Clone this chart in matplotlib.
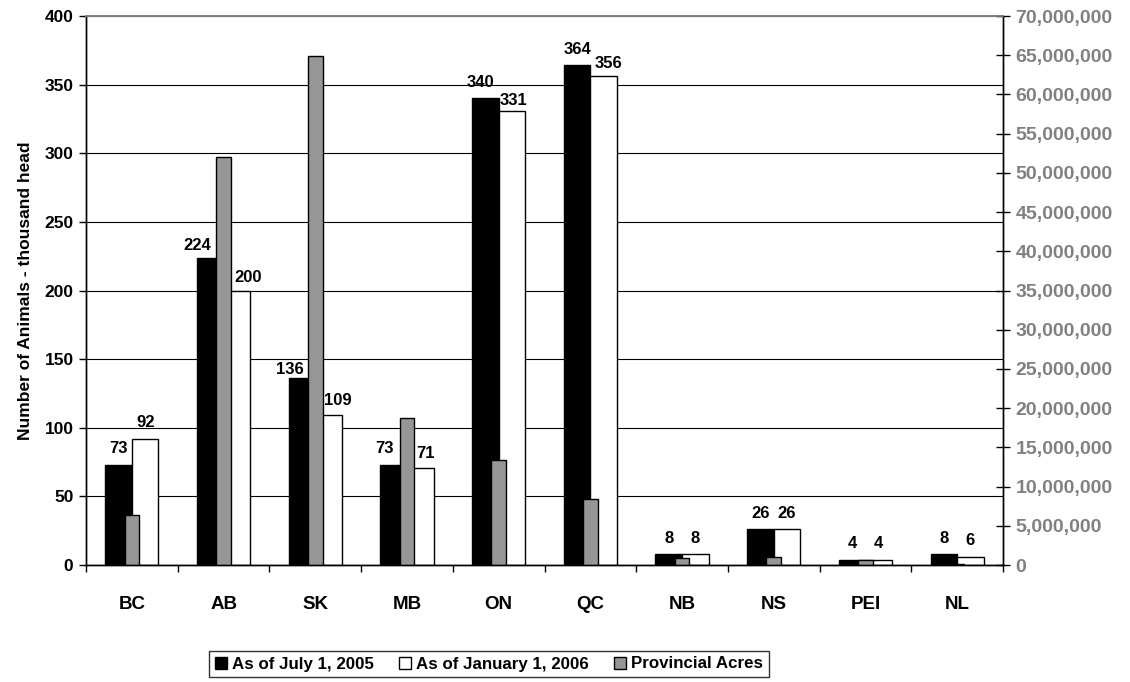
import matplotlib
matplotlib.use("Agg")
import matplotlib.pyplot as plt
import numpy as np
from matplotlib.ticker import FuncFormatter, FixedLocator, MultipleLocator
from matplotlib.patches import Patch

plt.rcParams['font.family'] = ['Liberation Sans', 'DejaVu Sans']
plt.rcParams['font.weight'] = 'bold'

# Data
provinces = ["BC", "AB", "SK", "MB", "ON", "QC", "NB", "NS", "PEI", "NL"]
animals_jul2005 = [73, 224, 136, 73, 340, 364, 8, 26, 4, 8]        # thousand head
animals_jan2006 = [92, 200, 109, 71, 331, 356, 8, 26, 4, 6]        # thousand head
provincial_acres = [6_400_000, 52_000_000, 64_900_000, 18_800_000, 13_400_000,
                    8_400_000, 950_000, 1_000_000, 600_000, 80_000]

series_names = ["As of July 1, 2005", "As of January 1, 2006", "Provincial Acres"]

# Label nudges (x in category units, y in points) to keep labels clear of the acre bars
nudge_black = [(0, 0), (-0.14, -3), (-0.135, -5), (-0.10, 0), (-0.055, 0),
               (0, 0), (0, 0), (0, 0), (0, 0), (0, 0)]
nudge_white = [(0, 0), (0.118, -2), (0.104, -1), (0.058, -1), (0.015, -4),
               (0.057, -2), (0, 0), (0, 0), (0, 0), (0, 0)]

fig = plt.figure(figsize=(11.30, 6.82), dpi=100)
ax = fig.add_axes([86/1130, 1 - 565/682, (1003 - 86)/1130, (565 - 16)/682])
ax2 = ax.twinx()

x = np.arange(len(provinces))
w = 0.29
gw = 0.16

ax.bar(x - w/2, animals_jul2005, width=w, color="black", edgecolor="black",
       linewidth=1, zorder=2)
ax.bar(x + w/2, animals_jan2006, width=w, color="white", edgecolor="black",
       linewidth=1, zorder=2)
ax2.bar(x, provincial_acres, width=gw, color="#969696", edgecolor="black",
        linewidth=1, zorder=2)

ax.set_xlim(-0.5, len(provinces) - 0.5)
ax.set_ylim(0, 400)
ax2.set_ylim(0, 70_000_000)

# Gridlines on the left scale
ax.yaxis.set_major_locator(MultipleLocator(50))
ax.set_axisbelow(True)
ax.grid(axis="y", color="black", linewidth=0.8, zorder=0)
ax.grid(axis="x", visible=False)

# Category ticks between groups, labels centred beneath
ax.xaxis.set_major_locator(FixedLocator(np.arange(len(provinces) + 1) - 0.5))
ax.xaxis.set_major_formatter(FuncFormatter(lambda v, p: ""))
ax.xaxis.set_minor_locator(FixedLocator(x))
ax.set_xticklabels(provinces, minor=True)
ax.tick_params(axis="x", which="major", direction="out", length=5, width=1,
               color="black")
ax.tick_params(axis="x", which="minor", length=0, pad=22, labelsize=13.5)

ax.tick_params(axis="y", direction="out", length=5, width=1, labelsize=12.5,
               pad=4)
ax.set_ylabel("Number of Animals - thousand head", fontsize=12.5,
              fontweight="bold", labelpad=8)

ax2.yaxis.set_major_locator(MultipleLocator(5_000_000))
ax2.yaxis.set_major_formatter(FuncFormatter(lambda v, p: f"{v:,.0f}"))
ax2.tick_params(axis="y", direction="inout", length=10, width=1,
                labelsize=14, labelcolor="#808080", pad=4)

for a in (ax, ax2):
    a.spines["top"].set_color("#808080")
    a.spines["top"].set_linewidth(1.2)
    a.spines["left"].set_color("black")
    a.spines["right"].set_color("black")
    a.spines["bottom"].set_color("black")
    a.spines["left"].set_linewidth(1)
    a.spines["right"].set_linewidth(1)
    a.spines["bottom"].set_linewidth(1)
ax2.patch.set_visible(False)

# Value labels above the livestock bars
for i in range(len(provinces)):
    dx, dy = nudge_black[i]
    ax2.annotate(f"{animals_jul2005[i]}", xy=(x[i] - w/2 + dx, animals_jul2005[i]),
                 xycoords=ax.transData, xytext=(0, 6 + dy),
                 textcoords="offset points", ha="center", va="bottom",
                 fontsize=12, fontweight="bold", zorder=5)
    dx, dy = nudge_white[i]
    ax2.annotate(f"{animals_jan2006[i]}", xy=(x[i] + w/2 + dx, animals_jan2006[i]),
                 xycoords=ax.transData, xytext=(0, 6 + dy),
                 textcoords="offset points", ha="center", va="bottom",
                 fontsize=12, fontweight="bold", zorder=5)

handles = [Patch(facecolor="black", edgecolor="black"),
           Patch(facecolor="white", edgecolor="black"),
           Patch(facecolor="#969696", edgecolor="black")]
leg = fig.legend(handles, series_names, loc="center",
                 bbox_to_anchor=(489/1130, 1 - 664/682), ncol=3,
                 frameon=True, fancybox=False, edgecolor="black",
                 prop={"weight": "bold", "size": 12.2},
                 handlelength=0.7, handleheight=0.7, handletextpad=0.3,
                 columnspacing=1.5, borderpad=0.35)
leg.get_frame().set_linewidth(1)

fig.savefig("out.png", dpi=100)
